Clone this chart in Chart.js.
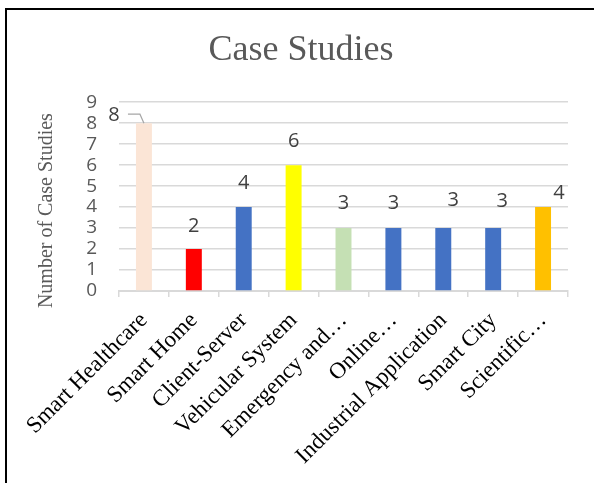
<!DOCTYPE html>
<html>
<head>
<meta charset="utf-8">
<script src="https://cdn.jsdelivr.net/npm/chart.js@4/dist/chart.umd.min.js"></script>
<style>
  html, body { margin: 0; padding: 0; background: #fff; }
  #wrap { position: relative; width: 594px; height: 483px; }
  #frame { position: absolute; left: 5px; top: 8px; right: -4px; bottom: -4px;
           border-left: 2.5px solid #000; border-top: 2.5px solid #000; pointer-events: none; }
  canvas { position: absolute; left: 0; top: 0; }
</style>
</head>
<body>
<div id="wrap">
  <canvas id="chart" width="594" height="483"></canvas>
  <div id="frame"></div>
</div>
<script>
// Case study counts per application domain
const categories = [
  'Smart Healthcare', 'Smart Home', 'Client-Server', 'Vehicular System',
  'Emergency and\u2026', 'Online\u2026', 'Industrial Application', 'Smart City', 'Scientific\u2026'
];
const caseCounts = [8, 2, 4, 6, 3, 3, 3, 3, 4];
const barColors = ['#fbe5d6', '#ff0000', '#4472c4', '#ffff00', '#c5e0b4',
                   '#4472c4', '#4472c4', '#4472c4', '#ffc000'];
const yTicks = [0, 1, 2, 3, 4, 5, 6, 7, 8, 9];

// label nudges (px) relative to each bar's top centre
const labelDx = [-30, 0, 0, 0, 0, 0, 10, 9, 16];
const labelDy = [-8, -23, -24, -24, -25, -25, -28, -27, -14];

const valueLabels = {
  id: 'valueLabels',
  afterDatasetsDraw(chart) {
    const ctx = chart.ctx;
    const meta = chart.getDatasetMeta(0);
    ctx.save();
    ctx.font = '20px "Open Sans", sans-serif';
    ctx.fillStyle = '#404040';
    ctx.textAlign = 'center';
    ctx.textBaseline = 'middle';
    meta.data.forEach((bar, i) => {
      const v = chart.data.datasets[0].data[i];
      ctx.fillText(String(v), bar.x + labelDx[i], bar.y + labelDy[i]);
    });
    // leader line for the first (offset) label
    const b0 = meta.data[0];
    ctx.strokeStyle = '#a6a6a6';
    ctx.lineWidth = 1.2;
    ctx.beginPath();
    ctx.moveTo(b0.x - 16, b0.y - 9);
    ctx.lineTo(b0.x - 4, b0.y - 9);
    ctx.lineTo(b0.x, b0.y);
    ctx.stroke();
    ctx.restore();
  }
};

const yAxisTitle = {
  id: 'yAxisTitle',
  afterDraw(chart) {
    const ctx = chart.ctx;
    const a = chart.chartArea;
    ctx.save();
    ctx.translate(47, (a.top + a.bottom) / 2 + 14);
    ctx.rotate(-Math.PI / 2);
    ctx.font = '20px "Liberation Serif", serif';
    ctx.fillStyle = '#595959';
    ctx.textAlign = 'center';
    ctx.textBaseline = 'middle';
    ctx.fillText('Number of Case Studies', 0, 0);
    ctx.restore();
  }
};

new Chart(document.getElementById('chart'), {
  type: 'bar',
  data: {
    labels: categories,
    datasets: [{
      data: caseCounts,
      backgroundColor: barColors,
      borderWidth: 0,
      barPercentage: 1,
      categoryPercentage: 0.32
    }]
  },
  options: {
    responsive: false,
    animation: false,
    events: [],
    layout: { padding: { left: 34, right: 26, top: 0, bottom: 0 } },
    plugins: {
      legend: { display: false },
      tooltip: { enabled: false },
      title: {
        display: true,
        text: 'Case Studies',
        color: '#595959',
        font: { family: '"Liberation Serif", serif', size: 36, weight: 'normal' },
        padding: { top: 29, bottom: 30 }
      }
    },
    scales: {
      x: {
        offset: true,
        grid: { display: true, drawOnChartArea: false, drawTicks: true, tickLength: 6,
                color: '#d9d9d9', lineWidth: 1.5 },
        border: { display: true, color: '#d9d9d9', width: 2 },
        ticks: {
          autoSkip: false, minRotation: 45, maxRotation: 45, padding: 10,
          color: '#000000',
          font: { family: '"Liberation Serif", serif', size: 23 }
        },
        afterFit(s) { s.height = 192; }
      },
      y: {
        min: 0, max: 9,
        afterBuildTicks(s) { s.ticks = yTicks.map(v => ({ value: v })); },
        grid: { color: '#d9d9d9', lineWidth: 1.5, drawTicks: false },
        border: { display: false },
        ticks: {
          autoSkip: false,
          padding: 22, color: '#595959',
          font: { family: '"Open Sans", sans-serif', size: 19 }
        },
        afterFit(s) { s.width = 85; }
      }
    }
  },
  plugins: [valueLabels, yAxisTitle]
});
</script>
</body>
</html>
